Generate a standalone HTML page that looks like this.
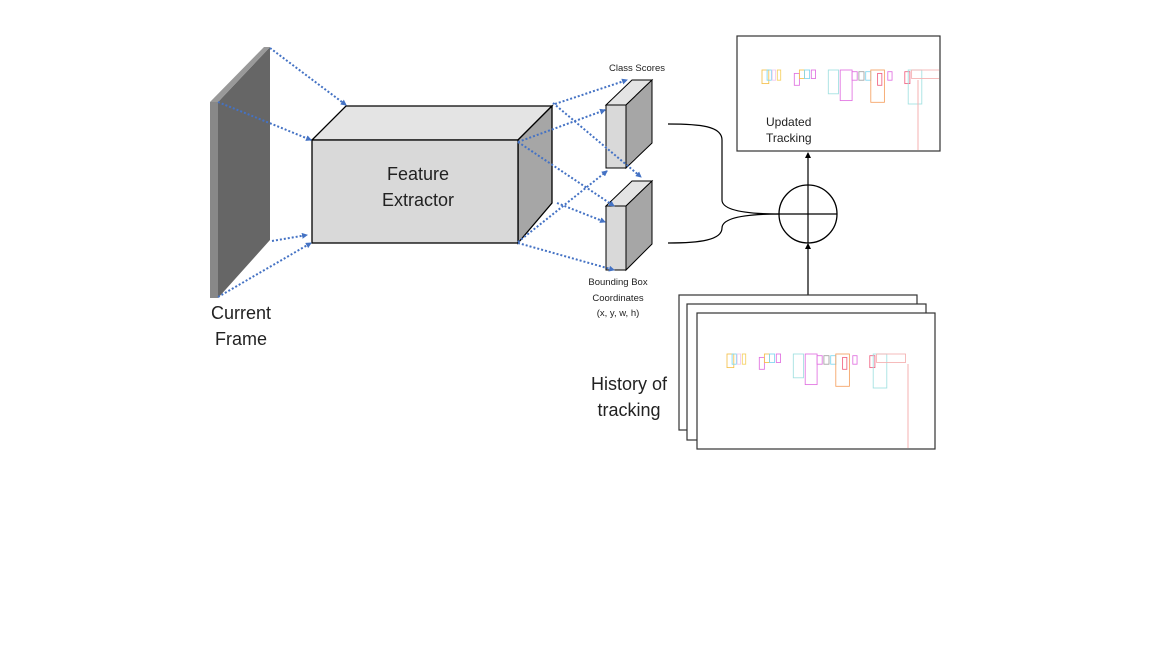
<!DOCTYPE html>
<html><head><meta charset="utf-8"><style>
html,body{margin:0;padding:0;background:#fff;}
svg{display:block;font-family:"Liberation Sans",sans-serif;}
</style></head><body>
<svg width="1152" height="648" viewBox="0 0 1152 648" xmlns="http://www.w3.org/2000/svg">
<defs>
<marker id="ab" markerWidth="6" markerHeight="6" refX="5" refY="3" orient="auto" markerUnits="userSpaceOnUse"><path d="M0,0 L6,3 L0,6 z" fill="#4472c4"/></marker>
<marker id="ak" markerWidth="6" markerHeight="6" refX="5" refY="3" orient="auto" markerUnits="userSpaceOnUse"><path d="M0,0 L6,3 L0,6 z" fill="#000"/></marker>
<clipPath id="c1"><rect x="738" y="37" width="201" height="113"/></clipPath>
<clipPath id="c2"><rect x="698" y="314" width="236" height="134"/></clipPath>
<g id="tr">
<rect x="0" y="0" width="8" height="16" fill="none" stroke="#f5c04a"/><rect x="6" y="0" width="5" height="12" fill="none" stroke="#7fd8f0"/><rect x="12" y="0" width="4" height="12" fill="none" stroke="#f0c8f0"/><rect x="18" y="0" width="4" height="12" fill="none" stroke="#f5d060"/>
<rect x="38" y="4" width="6" height="14" fill="none" stroke="#e070e0"/><rect x="44" y="0" width="6" height="10" fill="none" stroke="#f5c04a"/><rect x="50" y="0" width="6" height="10" fill="none" stroke="#7fd8f0"/><rect x="58" y="0" width="5" height="10" fill="none" stroke="#e070e0"/>
<rect x="78" y="0" width="12" height="28" fill="none" stroke="#a0e0e0"/><rect x="92" y="0" width="14" height="36" fill="none" stroke="#e070e0"/><rect x="106" y="2" width="6" height="10" fill="none" stroke="#e070e0"/><rect x="114" y="2" width="6" height="10" fill="none" stroke="#a0a0a0"/><rect x="122" y="2" width="6" height="10" fill="none" stroke="#7fd8f0"/>
<rect x="128" y="0" width="16" height="38" fill="none" stroke="#f5a060"/><rect x="136" y="4" width="5" height="14" fill="none" stroke="#f06080"/><rect x="148" y="2" width="5" height="10" fill="none" stroke="#e070e0"/>
<rect x="168" y="2" width="6" height="14" fill="none" stroke="#f06080"/><rect x="172" y="0" width="16" height="40" fill="none" stroke="#a0e0e0"/><rect x="176" y="0" width="34" height="10" fill="none" stroke="#f5b0b0"/>
</g>
</defs>
<polygon points="218,102 270,47 270,240 218,298" fill="#666"/>
<polygon points="210,102 218,102 270,47 264,47" fill="#999"/>
<rect x="210" y="102" width="8" height="196" fill="#888"/>
<polygon points="312,140 346,106 552,106 518,140" fill="#e4e4e4" stroke="#000" stroke-width="1.3"/>
<polygon points="518,140 552,106 552,203 518,243" fill="#a6a6a6" stroke="#000" stroke-width="1.3"/>
<rect x="312" y="140" width="206" height="103" fill="#d9d9d9" stroke="#000" stroke-width="1.3"/>
<polygon points="606,105 632,80 652,80 626,105" fill="#e4e4e4" stroke="#000"/>
<polygon points="626,105 652,80 652,143 626,168" fill="#a6a6a6" stroke="#000"/>
<rect x="606" y="105" width="20" height="63" fill="#d9d9d9" stroke="#000"/>
<polygon points="606,206 632,181 652,181 626,206" fill="#e4e4e4" stroke="#000"/>
<polygon points="626,206 652,181 652,244 626,270" fill="#a6a6a6" stroke="#000"/>
<rect x="606" y="206" width="20" height="64" fill="#d9d9d9" stroke="#000"/>
<g stroke="#4472c4" stroke-width="2" stroke-dasharray="2,2" fill="none" marker-end="url(#ab)">
<line x1="270" y1="48" x2="346" y2="105"/>
<line x1="218" y1="102" x2="311" y2="140"/>
<line x1="272" y1="241" x2="307" y2="235"/>
<line x1="218" y1="297" x2="311" y2="243"/>
<line x1="555" y1="104" x2="627" y2="80"/>
<line x1="518" y1="142" x2="605" y2="110"/>
<line x1="553" y1="103" x2="641" y2="177"/>
<line x1="518" y1="142" x2="614" y2="206"/>
<line x1="518" y1="242" x2="607" y2="171"/>
<line x1="557" y1="203" x2="605" y2="222"/>
<line x1="518" y1="243" x2="614" y2="270"/>
</g>
<path d="M668,124 C700,124 722,126 722,140 L722,200 C722,210 745,214 780,214" fill="none" stroke="#000" stroke-width="1.2"/>
<path d="M668,243 C700,243 722,240 722,228 C722,218 745,214 780,214" fill="none" stroke="#000" stroke-width="1.2"/>
<circle cx="808" cy="214" r="29" fill="#fff" stroke="#000" stroke-width="1.3"/>
<line x1="779" y1="214" x2="837" y2="214" stroke="#000" stroke-width="1.2"/>
<line x1="808" y1="185" x2="808" y2="243" stroke="#000" stroke-width="1.2"/>
<line x1="808" y1="185" x2="808" y2="153" stroke="#000" stroke-width="1.2" marker-end="url(#ak)"/>
<line x1="808" y1="295" x2="808" y2="244" stroke="#000" stroke-width="1.2" marker-end="url(#ak)"/>
<rect x="737" y="36" width="203" height="115" fill="#fff" stroke="#333" stroke-width="1.2"/>
<g clip-path="url(#c1)"><g transform="translate(762,70) scale(0.85)"><use href="#tr"/></g>
<line x1="918" y1="80" x2="918" y2="150" stroke="#f5b0b0"/></g>
<rect x="679" y="295" width="238" height="135" fill="#fff" stroke="#333" stroke-width="1.2"/>
<rect x="687" y="304" width="239" height="136" fill="#fff" stroke="#333" stroke-width="1.2"/>
<rect x="697" y="313" width="238" height="136" fill="#fff" stroke="#333" stroke-width="1.2"/>
<g clip-path="url(#c2)"><g transform="translate(727,354) scale(0.85)"><use href="#tr"/></g>
<line x1="908" y1="364" x2="908" y2="448" stroke="#f5b0b0"/></g>
<g fill="#222">
<text x="241" y="319" font-size="18" text-anchor="middle">Current</text>
<text x="241" y="345" font-size="18" text-anchor="middle">Frame</text>
<text x="418" y="180" font-size="18" text-anchor="middle">Feature</text>
<text x="418" y="206" font-size="18" text-anchor="middle">Extractor</text>
<text x="637" y="71" font-size="9.5" text-anchor="middle">Class Scores</text>
<text x="618" y="285" font-size="9.5" text-anchor="middle">Bounding Box</text>
<text x="618" y="301" font-size="9.5" text-anchor="middle">Coordinates</text>
<text x="618" y="316" font-size="9.5" text-anchor="middle">(x, y, w, h)</text>
<text x="766" y="126" font-size="12">Updated</text>
<text x="766" y="142" font-size="12">Tracking</text>
<text x="629" y="390" font-size="18" text-anchor="middle">History of</text>
<text x="629" y="416" font-size="18" text-anchor="middle">tracking</text>
</g>
</svg>
</body></html>
